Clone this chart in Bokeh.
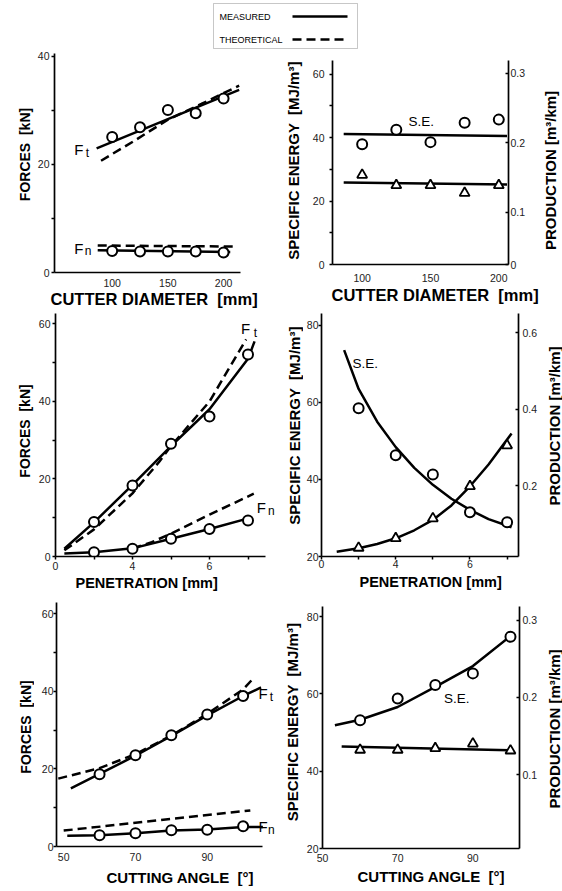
import math
from bokeh.plotting import figure
from bokeh.models import Range1d, LinearAxis, FixedTicker, Label, BoxAnnotation, Title
from bokeh.layouts import column, row
from bokeh.embed import file_html
from bokeh.resources import INLINE

FONT = "Liberation Sans"

# ---------------- data ----------------
legend_labels = ["MEASURED", "THEORETICAL"]

# cutter diameter [mm]
diam_tests = [100, 125, 150, 175, 200]
diam_ft_points = [25.1, 26.9, 30.1, 29.5, 32.2]
diam_fn_points = [4.0, 3.9, 3.9, 3.9, 3.7]
diam_ft_meas_x = [86, 214]
diam_ft_meas_y = [23.0, 33.8]
diam_ft_theo_x = [90, 120, 150, 180, 214]
diam_ft_theo_y = [20.7, 24.4, 28.3, 31.2, 34.6]
diam_fn_meas_x = [87, 206]
diam_fn_meas_y = [4.1, 3.8]
diam_fn_theo_x = [87, 211]
diam_fn_theo_y = [5.0, 4.8]
diam_se_points = [37.9, 42.5, 38.6, 44.7, 45.7]
diam_prod_points = [0.154, 0.139, 0.139, 0.128, 0.139]
diam_se_fit_x = [86.5, 206]
diam_se_fit_y = [41.2, 40.5]
diam_prod_fit_x = [86.5, 206]
diam_prod_fit_y = [0.143, 0.140]

# penetration [mm]
pen_tests = [3, 4, 5, 6, 7]
pen_ft_points = [8.9, 18.3, 29.1, 36.1, 52.1]
pen_fn_points = [1.1, 2.0, 4.6, 7.1, 9.3]
pen_ft_meas_x = [2.23, 3, 4, 5, 6, 7, 7.17]
pen_ft_meas_y = [2.0, 8.8, 18.5, 28.5, 38.0, 51.0, 55.5]
pen_ft_theo_x = [2.23, 3, 4, 4.7, 5, 6, 6.95]
pen_ft_theo_y = [1.6, 7.0, 16.3, 24.5, 28.5, 40.0, 56.0]
pen_fn_meas_x = [2.23, 3, 4, 5, 6, 7.1]
pen_fn_meas_y = [0.8, 1.1, 2.1, 4.6, 7.1, 10.1]
pen_fn_theo_x = [4.0, 4.5, 5.0, 6.0, 7.15]
pen_fn_theo_y = [2.1, 3.7, 5.9, 10.8, 16.2]
pen_se_points = [58.5, 46.3, 41.3, 31.5, 28.9]
pen_prod_points = [0.037, 0.062, 0.114, 0.198, 0.305]
pen_se_fit_x = [2.61, 3, 3.5, 4, 4.5, 5, 5.5, 6, 6.5, 7.12]
pen_se_fit_y = [73.6, 63.5, 55.0, 48.4, 43.0, 38.6, 35.0, 32.1, 29.7, 27.6]
pen_prod_fit_x = [2.41, 3, 3.5, 4, 4.5, 5, 5.5, 6, 6.5, 7.12]
pen_prod_fit_y = [0.027, 0.036, 0.047, 0.062, 0.083, 0.11, 0.148, 0.198, 0.255, 0.336]

# cutting angle [deg]
ang_tests = [60, 70, 80, 90, 100]
ang_ft_points = [18.6, 23.5, 28.7, 34.0, 38.8]
ang_fn_points = [2.9, 3.4, 4.2, 4.3, 5.2]
ang_ft_meas_x = [52, 60, 70, 80, 90, 100, 105]
ang_ft_meas_y = [15.0, 18.7, 23.4, 28.5, 33.8, 38.8, 41.0]
ang_ft_theo_x = [48.5, 60, 70, 80, 90, 100, 102.5]
ang_ft_theo_y = [17.5, 20.2, 23.8, 28.6, 34.2, 40.5, 43.0]
ang_fn_meas_x = [51, 60, 70, 80, 90, 100, 105.5]
ang_fn_meas_y = [2.8, 2.9, 3.4, 4.1, 4.4, 5.0, 5.0]
ang_fn_theo_x = [50, 102]
ang_fn_theo_y = [4.1, 9.3]
ang_se_points = [53.2, 58.8, 62.3, 65.3, 74.8]
ang_prod_points = [0.132, 0.132, 0.134, 0.140, 0.131]
ang_se_fit_x = [53.3, 60, 70, 80, 90, 99.8]
ang_se_fit_y = [51.9, 53.3, 56.6, 61.8, 67.2, 74.8]
ang_prod_fit_x = [55.1, 99.8]
ang_prod_fit_y = [0.1365, 0.1315]

# ---------------- styling helpers ----------------
LW = 2.5
DASH = "9 5"


def no_align(p):
    try:
        p.frame_align = False
    except AttributeError:
        pass


def make_panel(x0, y0, w, h, frame, xr, yr):
    fl, fr, ft, fb = frame
    p = figure(width=w, height=h, x_range=Range1d(*xr), y_range=Range1d(*yr),
               output_backend="svg", toolbar_location=None,
               min_border_left=fl - x0, min_border_right=x0 + w - fr,
               min_border_top=ft - y0, min_border_bottom=y0 + h - fb)
    no_align(p)
    p.xgrid.visible = False
    p.ygrid.visible = False
    p.outline_line_color = None
    p.background_fill_color = "white"
    p.border_fill_color = "white"

    def to_data(px, py):
        return (xr[0] + (px - fl) * (xr[1] - xr[0]) / (fr - fl),
                yr[0] + (fb - py) * (yr[1] - yr[0]) / (fb - ft))
    return p, to_data


def blank_fig(w, h):
    f = figure(width=w, height=h, x_range=Range1d(0, w), y_range=Range1d(h, 0),
               x_axis_location=None, y_axis_location=None, min_border=0,
               output_backend="svg", toolbar_location=None)
    no_align(f)
    f.outline_line_color = None
    f.grid.visible = False
    return f


def vtitle_fig(w, h, cx, cy, s, size):
    f = blank_fig(w, h)
    f.add_layout(Label(x=cx, y=cy, text=s, angle=math.pi / 2, text_align="center",
                       text_baseline="middle", text_font=FONT, text_font_style="bold",
                       text_font_size=f"{size}px", text_color="black"))
    return f


def style_axis(ax, ticks, minor=(), overrides=None, tick_out=3, tick_in=0, standoff=3):
    ax.ticker = FixedTicker(ticks=list(ticks), minor_ticks=list(minor))
    ax.axis_line_color = "black"
    ax.axis_line_width = 1.7
    ax.major_tick_line_color = "black"
    ax.major_tick_line_width = 1.5
    ax.minor_tick_line_color = "black"
    ax.minor_tick_line_width = 1.5
    ax.major_tick_in = tick_in
    ax.major_tick_out = tick_out
    ax.minor_tick_in = tick_in
    ax.minor_tick_out = tick_out
    ax.major_label_standoff = standoff
    ax.major_label_text_font = FONT
    ax.major_label_text_font_size = "10.5px"
    ax.major_label_text_color = "#222222"
    if overrides:
        ax.major_label_overrides = overrides


def text(p, to_data, px, py, s, size):
    x, y = to_data(px, py)
    p.add_layout(Label(x=x, y=y, text=s, text_align="center", text_baseline="middle",
                       text_font=FONT, text_font_size=f"{size}px", text_color="black"))


def force_label(p, to_data, fx, fy, sub, sx, sy):
    text(p, to_data, fx, fy, "F", 15)
    text(p, to_data, sx, sy, sub, 12)


def x_title(p, s, size, offset, standoff):
    p.add_layout(Title(text=s, align="left", offset=offset, standoff=standoff,
                       text_font=FONT, text_font_size=f"{size}px",
                       text_font_style="bold", text_color="black"), "below")


def add_right(p, rng, ticks, overrides=None, standoff=2):
    p.extra_y_ranges = {"prod": Range1d(*rng)}
    ax = LinearAxis(y_range_name="prod")
    style_axis(ax, ticks, overrides=overrides, tick_out=0, tick_in=3, standoff=standoff)
    p.add_layout(ax, "right")


def circles(p, x, y):
    p.scatter(x, y, marker="circle", size=10, fill_color="white",
              line_color="black", line_width=2)


def triangles(p, x, y):
    p.scatter(x, y, marker="triangle", size=10, fill_color="white",
              line_color="black", line_width=1.8, y_range_name="prod")


NB = "\u00a0"
T_DIAM = "CUTTER DIAMETER " + NB + "[mm]"
T_PEN = "PENETRATION [mm]"
T_ANG = "CUTTING ANGLE " + NB + "[°]"
T_FORCE = "FORCES " + NB + "[kN]"
T_SE = "SPECIFIC ENERGY " + NB + "[MJ/m³]"
T_PROD = "PRODUCTION [m³/km]"

# ---------------- legend ----------------
leg = blank_fig(562, 50)
leg.add_layout(BoxAnnotation(left=213, right=357, top=3, bottom=48, fill_alpha=0,
                             line_color="#444444", line_width=1))
leg.line([292, 347], [16, 16], line_color="black", line_width=LW)
leg.line([292, 347], [39, 39], line_color="black", line_width=LW, line_dash=DASH)
for lab, yy in zip(legend_labels, [16, 39]):
    leg.add_layout(Label(x=219, y=yy, text=lab, text_align="left", text_baseline="middle",
                         text_font=FONT, text_font_size="9px", text_color="black"))

# cell geometry: left title strip 0..34, left panel 34..280,
# right-column title strip 280..303, right panel 303..540, right title strip 540..562
LX, LW_ = 34, 246
RX, RW = 303, 237
ROWS = [(50, 258), (308, 286), (594, 297)]

# ---------------- panel 1: forces vs cutter diameter ----------------
y0, h = ROWS[0]
p1, d1 = make_panel(LX, y0, LW_, h, (53, 240, 53, 272), (48.2, 215.2), (0, 40.55))
style_axis(p1.yaxis[0], [0, 20, 40], [10, 30], standoff=2)
style_axis(p1.xaxis[0], [100, 150, 200], tick_out=0, standoff=6)
p1.line(diam_ft_meas_x, diam_ft_meas_y, line_color="black", line_width=LW)
p1.line(diam_ft_theo_x, diam_ft_theo_y, line_color="black", line_width=LW, line_dash=DASH)
p1.line(diam_fn_meas_x, diam_fn_meas_y, line_color="black", line_width=LW)
p1.line(diam_fn_theo_x, diam_fn_theo_y, line_color="black", line_width=LW, line_dash=DASH)
circles(p1, diam_tests, diam_ft_points)
circles(p1, diam_tests, diam_fn_points)
force_label(p1, d1, 77.5, 149, "t", 86, 152.5)
force_label(p1, d1, 77.5, 247.5, "n", 86.7, 250.8)
x_title(p1, T_DIAM, 16.5, -4, -4)
t1 = vtitle_fig(LX, h, 24, 154 - y0, T_FORCE, 14)

# ---------------- panel 2: SE / production vs cutter diameter ----------------
p2, d2 = make_panel(RX, y0, RW, h, (332, 508, 60, 264), (78.3, 207.1), (0, 64.35))
style_axis(p2.yaxis[0], [0, 20, 40, 60], [10, 30, 50], standoff=5)
style_axis(p2.xaxis[0], [100, 150, 200], tick_out=0, standoff=9)
add_right(p2, (0.025, 0.3187), [0.025, 0.1, 0.2, 0.3],
          overrides={0.025: "0", "0.025": "0"})
p2.line(diam_se_fit_x, diam_se_fit_y, line_color="black", line_width=LW)
p2.line(diam_prod_fit_x, diam_prod_fit_y, line_color="black", line_width=LW, y_range_name="prod")
circles(p2, diam_tests, diam_se_points)
triangles(p2, diam_tests, diam_prod_points)
text(p2, d2, 420.8, 120.8, "S.E.", 13.5)
x_title(p2, T_DIAM, 16.5, -1, -1)
t2l = vtitle_fig(RX - 280, h, 12.5, 160 - y0, T_SE, 15)
t2r = vtitle_fig(562 - RX - RW, h, 10, 170 - y0, T_PROD, 15)

# ---------------- panel 3: forces vs penetration ----------------
y0, h = ROWS[1]
p3, d3 = make_panel(LX, y0, LW_, h, (55, 280, 313, 556), (2.0, 7.844), (0, 62.7))
style_axis(p3.yaxis[0], [0, 20, 40, 60], [10, 30, 50], standoff=2)
style_axis(p3.xaxis[0], [2, 4, 6], [3, 5, 7], overrides={2: "0", "2": "0"}, standoff=2)
p3.xaxis[0].bounds = (2.0, 7.455)
p3.line(pen_ft_meas_x, pen_ft_meas_y, line_color="black", line_width=LW)
p3.line(pen_ft_theo_x, pen_ft_theo_y, line_color="black", line_width=LW, line_dash=DASH)
p3.line(pen_fn_meas_x, pen_fn_meas_y, line_color="black", line_width=LW)
p3.line(pen_fn_theo_x, pen_fn_theo_y, line_color="black", line_width=LW, line_dash=DASH)
circles(p3, pen_tests, pen_ft_points)
circles(p3, pen_tests, pen_fn_points)
force_label(p3, d3, 245, 328, "t", 255, 332.5)
force_label(p3, d3, 260.8, 506.7, "n", 270.8, 510.8)
x_title(p3, T_PEN, 14.5, 20, 0)
t3 = vtitle_fig(LX, h, 24.5, 430.5 - y0, T_FORCE, 14)

# ---------------- panel 4: SE / production vs penetration ----------------
p4, d4 = make_panel(RX, y0, RW, h, (319, 518, 313, 556), (2.0, 7.307), (20, 83.1))
style_axis(p4.yaxis[0], [20, 40, 60, 80], standoff=0)
style_axis(p4.xaxis[0], [2, 4, 6], [3, 5, 7], overrides={2: "0", "2": "0"}, standoff=0)
add_right(p4, (0.0144, 0.65), [0.2, 0.4, 0.6], standoff=4)
p4.line(pen_se_fit_x, pen_se_fit_y, line_color="black", line_width=LW)
p4.line(pen_prod_fit_x, pen_prod_fit_y, line_color="black", line_width=LW, y_range_name="prod")
circles(p4, pen_tests, pen_se_points)
triangles(p4, pen_tests, pen_prod_points)
text(p4, d4, 363.3, 362.5, "S.E.", 13.5)
x_title(p4, T_PEN, 14.5, 38, 3)
t4l = vtitle_fig(RX - 280, h, 13.5, 425 - y0, T_SE, 15)
t4r = vtitle_fig(562 - RX - RW, h, 13.5, 425.5 - y0, T_PROD, 15)

# ---------------- panel 5: forces vs cutting angle ----------------
y0, h = ROWS[2]
p5, d5 = make_panel(LX, y0, LW_, h, (56, 280, 602, 846), (48.0, 110.41), (0, 62.9))
style_axis(p5.yaxis[0], [0, 20, 40, 60], [10, 30, 50], standoff=0)
style_axis(p5.xaxis[0], [50, 70, 90], tick_out=0, standoff=6)
p5.xaxis[0].bounds = (48.0, 105.4)
p5.line(ang_ft_meas_x, ang_ft_meas_y, line_color="black", line_width=LW)
p5.line(ang_ft_theo_x, ang_ft_theo_y, line_color="black", line_width=LW, line_dash=DASH)
p5.line(ang_fn_meas_x, ang_fn_meas_y, line_color="black", line_width=LW)
p5.line(ang_fn_theo_x, ang_fn_theo_y, line_color="black", line_width=LW, line_dash=DASH)
circles(p5, ang_tests, ang_ft_points)
circles(p5, ang_tests, ang_fn_points)
force_label(p5, d5, 262.5, 692.5, "t", 270.8, 696.7)
force_label(p5, d5, 262.5, 825.8, "n", 270.8, 829)
x_title(p5, T_ANG, 15, 50, 6)
t5 = vtitle_fig(LX, h, 25, 726.5 - y0, T_FORCE, 14)

# ---------------- panel 6: SE / production vs cutting angle ----------------
p6, d6 = make_panel(RX, y0, RW, h, (321, 520, 606, 848), (50.0, 102.4), (20, 82.6))
style_axis(p6.yaxis[0], [20, 40, 60, 80], standoff=1)
style_axis(p6.xaxis[0], [50, 70, 90], tick_out=0, standoff=5)
add_right(p6, (0.004, 0.318), [0.1, 0.2, 0.3], standoff=3)
p6.line(ang_se_fit_x, ang_se_fit_y, line_color="black", line_width=LW)
p6.line(ang_prod_fit_x, ang_prod_fit_y, line_color="black", line_width=LW, y_range_name="prod")
circles(p6, ang_tests, ang_se_points)
triangles(p6, ang_tests, ang_prod_points)
text(p6, d6, 456.7, 697.5, "S.E.", 13.5)
x_title(p6, T_ANG, 15, 35, 3)
t6l = vtitle_fig(RX - 280, h, 11.5, 721.5 - y0, T_SE, 15)
t6r = vtitle_fig(562 - RX - RW, h, 13.5, 728.5 - y0, T_PROD, 15)


def cells(*figs):
    return row(*[column(f) for f in figs])


layout = column(leg,
                cells(t1, p1, t2l, p2, t2r),
                cells(t3, p3, t4l, p4, t4r),
                cells(t5, p5, t6l, p6, t6r))

open("out.html", "w").write(file_html(layout, INLINE))
